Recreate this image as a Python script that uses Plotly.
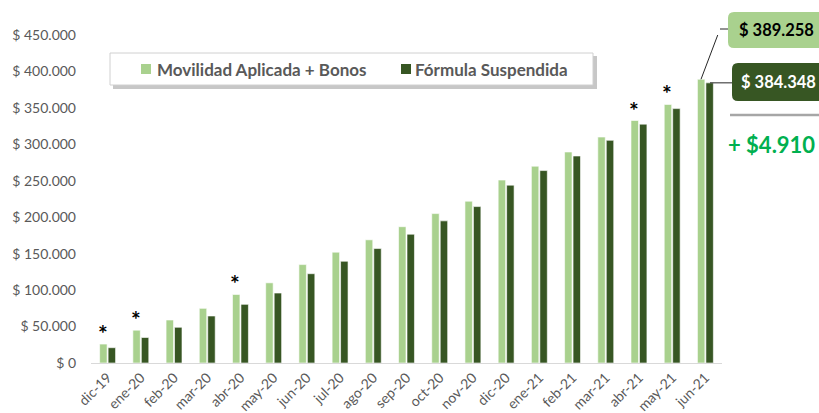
import plotly.graph_objects as go

months = ["dic-19", "ene-20", "feb-20", "mar-20", "abr-20", "may-20", "jun-20",
          "jul-20", "ago-20", "sep-20", "oct-20", "nov-20", "dic-20", "ene-21",
          "feb-21", "mar-21", "abr-21", "may-21", "jun-21"]
movilidad = [26000, 45000, 59000, 75000, 94000, 110000, 135000, 152000, 169000,
             187000, 205000, 222000, 251000, 270000, 289500, 310000, 332700,
             354700, 389258]
formula = [21000, 35000, 49000, 64500, 80500, 96000, 122500, 139600, 157000,
           176700, 195000, 214600, 244000, 264000, 284000, 305500, 327700,
           349000, 384348]
asterisk_months = ["dic-19", "ene-20", "abr-20", "abr-21", "may-21"]
y_ticks = [0, 50000, 100000, 150000, 200000, 250000, 300000, 350000, 400000, 450000]
y_tick_text = ["$ 0", "$ 50.000", "$ 100.000", "$ 150.000", "$ 200.000",
               "$ 250.000", "$ 300.000", "$ 350.000", "$ 400.000", "$ 450.000"]
label_light = "$ 389.258"
label_dark = "$ 384.348"
label_diff = "+ $4.910"

LIGHT = "#a9d18e"
DARK = "#375623"
GREY_TXT = "#595959"
FONT = "Lato, Carlito, Calibri, sans-serif"

W, H = 819, 413
L, R, T, B = 91, 97, 35, 50
PW, PH = W - L - R, H - T - B


def px(x):
    return (x - L) / PW


def py(y):
    return (H - B - y) / PH


fig = go.Figure()
fig.add_trace(go.Bar(x=months, y=movilidad, name="Movilidad Aplicada + Bonos",
                     marker=dict(color=LIGHT, line=dict(color="white", width=0.6))))
fig.add_trace(go.Bar(x=months, y=formula, name="Fórmula Suspendida",
                     marker=dict(color=DARK, line=dict(color="white", width=0.6))))

annotations = []
for m, v in zip(months, movilidad):
    if m in asterisk_months:
        annotations.append(dict(x=m, y=v, xref="x", yref="y", text="<b>*</b>",
                                showarrow=False, xshift=-5, yshift=-5, yanchor="bottom",
                                font=dict(size=23, color="black", family=FONT)))

shapes = []
# legend box with shadow
shapes.append(dict(type="rect", xref="paper", yref="paper", x0=px(113), x1=px(597),
                   y0=py(89), y1=py(56), fillcolor="rgba(0,0,0,0.22)", line=dict(width=0), layer="above"))
shapes.append(dict(type="rect", xref="paper", yref="paper", x0=px(110), x1=px(593),
                   y0=py(85), y1=py(53), fillcolor="white", line=dict(color="#d0d0d0", width=1), layer="above"))
shapes.append(dict(type="rect", xref="paper", yref="paper", x0=px(141), x1=px(151),
                   y0=py(74), y1=py(64), fillcolor=LIGHT, line=dict(width=0), layer="above"))
shapes.append(dict(type="rect", xref="paper", yref="paper", x0=px(401), x1=px(411),
                   y0=py(74), y1=py(64), fillcolor=DARK, line=dict(width=0), layer="above"))
annotations.append(dict(x=px(155), y=py(69), xref="paper", yref="paper", xanchor="left",
                        yanchor="middle", showarrow=False, text="<b>Movilidad Aplicada + Bonos</b>",
                        font=dict(size=17, color=GREY_TXT, family=FONT)))
annotations.append(dict(x=px(413), y=py(69), xref="paper", yref="paper", xanchor="left",
                        yanchor="middle", showarrow=False, text="<b>Fórmula Suspendida</b>",
                        font=dict(size=17, color=GREY_TXT, family=FONT)))


def rounded(x0, y0, x1, y1, r):
    a, b, c, d = px(x0), px(x1), py(y0), py(y1)
    rx, ry = r / PW, r / PH
    return (f"M{a + rx},{c} L{b - rx},{c} Q{b},{c} {b},{c - ry} L{b},{d + ry} Q{b},{d} {b - rx},{d} "
            f"L{a + rx},{d} Q{a},{d} {a},{d + ry} L{a},{c - ry} Q{a},{c} {a + rx},{c} Z")


# callout boxes
shapes.append(dict(type="path", xref="paper", yref="paper", path=rounded(728, 12, 830, 48, 6),
                   fillcolor=LIGHT, line=dict(width=0), layer="above"))
shapes.append(dict(type="path", xref="paper", yref="paper", path=rounded(732, 63, 830, 101, 6),
                   fillcolor=DARK, line=dict(width=0), layer="above"))
# connectors from the last bars
shapes.append(dict(type="line", xref="paper", yref="y", x0=px(701), x1=px(720),
                   y0=movilidad[-1], y1=(H - B - 29) / PH * 450000, line=dict(color="#262626", width=1)))
shapes.append(dict(type="line", xref="paper", yref="paper", x0=px(720), x1=px(728),
                   y0=py(29), y1=py(29), line=dict(color="#262626", width=1)))
shapes.append(dict(type="line", xref="paper", yref="y", x0=px(710), x1=px(732),
                   y0=formula[-1], y1=formula[-1], line=dict(color="#262626", width=1)))
# separator
shapes.append(dict(type="line", xref="paper", yref="paper", x0=px(730), x1=px(825),
                   y0=py(115), y1=py(115), line=dict(color="#a6a6a6", width=2.5)))

annotations.append(dict(x=px(737), y=py(30), xref="paper", yref="paper", xanchor="left",
                        yanchor="middle", showarrow=False, text=f"<b>{label_light}</b>",
                        font=dict(size=16.5, color="black", family=FONT)))
annotations.append(dict(x=px(739), y=py(82), xref="paper", yref="paper", xanchor="left",
                        yanchor="middle", showarrow=False, text=f"<b>{label_dark}</b>",
                        font=dict(size=16.5, color="white", family=FONT)))
annotations.append(dict(x=px(726), y=py(144), xref="paper", yref="paper", xanchor="left",
                        yanchor="middle", showarrow=False, text=f"<b>{label_diff}</b>",
                        font=dict(size=22, color="#00b050", family=FONT)))

fig.update_layout(
    width=W, height=H,
    margin=dict(l=L, r=R, t=T, b=B, autoexpand=False),
    paper_bgcolor="white", plot_bgcolor="white",
    font=dict(family=FONT, color=GREY_TXT, size=12),
    barmode="group", bargap=0.49, bargroupgap=0.12,
    showlegend=False,
    shapes=shapes, annotations=annotations,
)
fig.update_xaxes(tickangle=-45, showgrid=False, showline=True, linecolor="#d9d9d9",
                 linewidth=1, ticks="", tickfont=dict(size=14, color=GREY_TXT),
                 range=[-0.5, len(months) - 0.5])
fig.update_yaxes(range=[0, 450000], tickvals=y_ticks, ticktext=y_tick_text, showgrid=False,
                 zeroline=False, showline=False, ticks="", ticklabelstandoff=14,
                 tickfont=dict(size=14, color=GREY_TXT))

fig.write_html("out.html", config={"displayModeBar": False},
               post_script="document.body.style.margin='0';")
